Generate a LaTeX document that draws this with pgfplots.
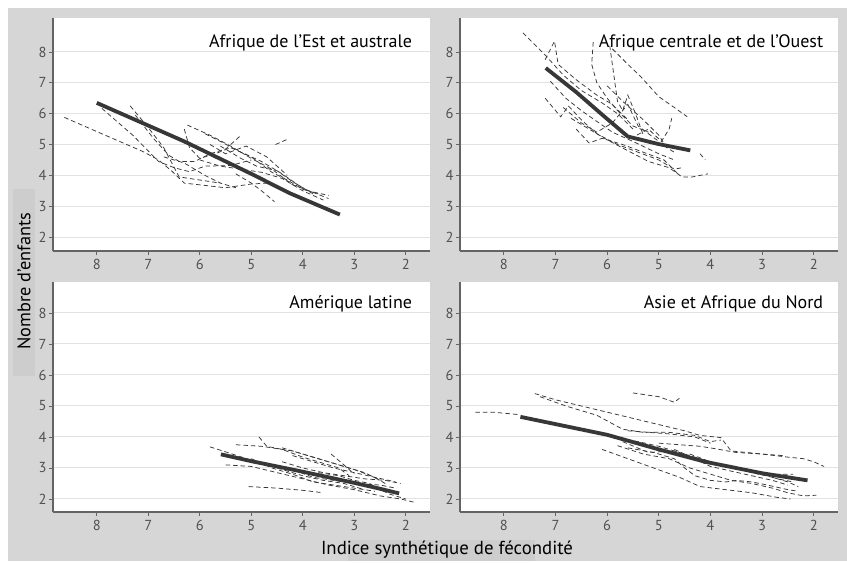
\documentclass[border=0pt]{standalone}
\usepackage{fontspec}
\setmainfont{PT Sans}
\usepackage{pgfplots}
\pgfplotsset{compat=1.18}

\definecolor{bg}{RGB}{214,214,214}
\definecolor{lblbox}{RGB}{205,205,205}
\definecolor{axisgray}{RGB}{100,100,100}
\definecolor{ticktext}{RGB}{80,80,80}
\definecolor{gridgray}{RGB}{226,226,226}
\definecolor{dashc}{RGB}{55,55,55}
\definecolor{meanc}{RGB}{55,55,55}

\tikzset{ttl/.style={anchor=base east, font=\fontsize{18}{18}\selectfont, text=black}}

\pgfplotsset{
  panel/.style={
    scale only axis, width=377pt, height=233pt, anchor=south west,
    x dir=reverse, xmin=1.53, xmax=8.85, ymin=1.55, ymax=9.1,
    axis x line*=bottom, axis y line*=left,
    axis line style={-, axisgray, line width=1.1pt},
    xtick={2,3,4,5,6,7,8}, ytick={2,3,4,5,6,7,8},
    tick style={axisgray, line width=0.8pt}, tick align=outside,
    major tick length=4pt,
    ymajorgrids, grid style={gridgray, line width=1pt},
    axis background/.style={fill=white},
    tick label style={font=\fontsize{14.5}{14.5}\selectfont, text=ticktext},
    xticklabel style={yshift=-1pt},
    yticklabel style={xshift=1pt},
    /pgf/number format/assume math mode=true,
  },
  lower/.style={height=230pt, ymin=1.58, ymax=9.0},
  cty/.style={dashc, line width=0.75pt, dash pattern=on 4.5pt off 3pt},
  avg/.style={meanc, line width=3.8pt},
}

\begin{document}
\begin{tikzpicture}
\fill[white] (0,0) rectangle (847pt,561pt);
\fill[bg] (8pt,0) rectangle (847pt,553pt);
\fill[lblbox] (13pt,185pt) rectangle (35pt,372pt);
\fill[lblbox] (348pt,0pt) rectangle (535pt,21pt);
\node[rotate=90, font=\fontsize{18.3}{18.3}\selectfont] at (24pt,280pt) {Nombre d'enfants};
\node[anchor=base, font=\fontsize{18.8}{18.8}\selectfont] at (447pt,6pt) {Indice synthétique de fécondité};

% Afrique de l'Est et australe
\begin{axis}[panel, at={(53pt,310pt)}]
\addplot[cty] coordinates {(8.63,5.88)(8.0,5.42)(7.1,4.77)(6.8,4.50)(6.55,4.15)(6.3,3.75)(5.5,3.60)(5.0,3.72)(4.7,3.75)};
\addplot[cty] coordinates {(7.9,6.17)(7.3,5.3)(6.8,4.45)(6.5,4.25)(6.2,4.12)(5.9,4.3)(5.4,4.32)(5.0,4.5)};
\addplot[cty] coordinates {(7.35,6.25)(7.0,5.55)(6.7,4.9)(6.4,3.95)(6.0,3.85)(5.6,3.75)};
\addplot[cty] coordinates {(7.25,5.95)(6.9,5.2)(6.6,4.65)(6.4,4.45)(6.1,4.45)(5.8,4.7)(5.5,4.85)(5.2,5.3)};
\addplot[cty] coordinates {(6.24,5.63)(5.8,5.3)(5.4,4.95)(5.0,4.55)(4.6,4.2)(4.2,3.7)(3.8,3.45)(3.5,3.25)};
\addplot[cty] coordinates {(6.3,5.5)(6.2,4.9)(6.0,4.55)(5.7,4.7)(5.4,4.9)(5.0,4.6)(4.6,4.1)(4.3,3.85)(4.0,3.55)(3.7,3.4)};
\addplot[cty] coordinates {(5.9,5.35)(5.6,5.1)(5.2,4.75)(4.8,4.45)(4.4,4.05)(4.1,3.7)(3.8,3.4)};
\addplot[cty] coordinates {(4.53,5.0)(4.3,5.17)};
\addplot[cty] coordinates {(6.0,4.5)(5.6,4.3)(5.2,4.2)(4.8,4.1)(4.4,3.9)(4.0,3.5)(3.6,3.2)};
\addplot[cty] coordinates {(5.3,4.05)(5.0,3.75)(4.8,3.5)(4.55,3.15)};
\addplot[cty] coordinates {(6.7,4.6)(6.3,4.4)(5.9,4.0)(5.6,3.75)(5.3,3.6)};
\addplot[cty] coordinates {(5.6,4.95)(5.2,4.55)(4.9,4.3)(4.5,4.15)(4.2,3.8)(3.9,3.5)(3.5,3.35)};
\addplot[cty] coordinates {(5.8,5.0)(5.5,4.7)(5.1,4.95)(4.7,4.6)(4.3,4.0)};
\addplot[avg] coordinates {(8.0,6.35)(6.3,5.1)(5.0,4.05)(4.25,3.42)(3.28,2.73)};
\node[ttl] at (axis cs:1.81,8.13) {Afrique de l'Est et australe};
\end{axis}

% Afrique centrale et de l'Ouest
\begin{axis}[panel, width=378pt, at={(460pt,310pt)}]
\addplot[cty] coordinates {(7.63,8.62)(7.2,7.9)(6.85,7.25)(6.5,6.75)(6.1,6.35)(5.8,6.0)(5.5,5.5)};
\addplot[cty] coordinates {(7.2,7.75)(7.02,8.35)(6.95,7.6)(6.6,7.1)(6.2,6.6)(5.9,6.3)(5.6,5.8)};
\addplot[cty] coordinates {(6.27,8.32)(6.3,7.6)(6.2,7.0)(6.0,6.5)(5.8,6.1)(5.5,5.6)(5.2,5.4)};
\addplot[cty] coordinates {(5.95,8.2)(5.9,7.6)(5.85,7.0)(5.8,6.4)(5.7,6.1)(5.6,6.6)(5.45,6.0)(5.3,5.3)};
\addplot[cty] coordinates {(5.9,8.1)(5.6,7.6)(5.35,7.2)(5.0,6.55)(4.7,6.2)(4.45,5.9)};
\addplot[cty] coordinates {(7.1,7.05)(6.8,6.5)(6.5,6.1)(6.2,5.75)(5.9,5.4)(5.5,5.1)(5.0,4.7)(4.7,4.5)};
\addplot[cty] coordinates {(7.2,6.5)(6.9,5.9)(6.75,6.25)(6.5,5.8)(6.2,5.35)(5.8,5.0)(5.4,4.75)(5.0,4.5)(4.7,4.2)(4.55,4.25)};
\addplot[cty] coordinates {(6.7,5.85)(6.35,5.5)(6.0,5.15)(5.6,4.8)(5.2,4.45)(4.8,4.25)(4.55,3.95)(4.35,3.95)(4.05,4.05)};
\addplot[cty] coordinates {(6.6,5.5)(6.35,5.05)(6.1,5.2)(5.7,5.0)(5.3,4.75)(4.9,4.5)(4.6,4.0)};
\addplot[cty] coordinates {(6.85,6.2)(6.5,5.7)(6.2,5.4)(5.9,5.7)(5.6,6.3)(5.4,5.6)(5.0,5.1)};
\addplot[cty] coordinates {(5.55,5.2)(5.2,5.5)(4.95,5.1)(4.8,5.5)(4.75,5.85)};
\addplot[cty] coordinates {(4.2,4.7)(4.1,4.5)};
\addplot[cty] coordinates {(6.0,6.9)(5.7,6.4)(5.3,5.8)(5.0,5.3)(4.85,4.9)(4.7,4.75)};
\addplot[avg] coordinates {(7.19,7.48)(6.6,6.7)(6.05,5.9)(5.6,5.26)(5.02,5.02)(4.39,4.81)};
\node[ttl] at (axis cs:1.75,8.16) {Afrique centrale et de l'Ouest};
\end{axis}

% Amerique latine
\begin{axis}[panel, lower, at={(53pt,49pt)}]
\addplot[cty] coordinates {(5.8,3.68)(5.5,3.52)(5.0,3.25)(4.5,3.05)(4.0,2.9)};
\addplot[cty] coordinates {(4.85,4.0)(4.7,3.7)(4.4,3.6)(4.0,3.35)(3.6,3.15)(3.3,3.0)(3.1,2.75)};
\addplot[cty] coordinates {(5.3,3.75)(4.8,3.7)(4.2,3.55)(3.7,3.3)(3.2,3.05)(2.8,2.85)(2.5,2.6)};
\addplot[cty] coordinates {(4.4,3.65)(4.0,3.45)(3.5,3.2)(3.0,2.95)(2.6,2.7)(2.4,2.5)};
\addplot[cty] coordinates {(3.45,3.45)(3.2,3.1)(3.0,2.8)};
\addplot[cty] coordinates {(5.05,2.4)(4.5,2.35)(4.0,2.28)(3.6,2.2)};
\addplot[cty] coordinates {(5.5,3.1)(5.0,3.05)(4.5,2.85)(4.0,2.65)(3.5,2.45)(3.0,2.3)(2.5,2.1)(2.1,2.0)(1.8,1.88)};
\addplot[cty] coordinates {(5.0,3.3)(4.6,3.0)(4.2,2.8)(3.8,2.55)(3.4,2.45)(3.0,2.35)(2.6,2.25)};
\addplot[cty] coordinates {(4.6,3.1)(4.2,2.95)(3.8,2.7)(3.4,2.6)(3.0,2.5)(2.5,2.45)(2.2,2.35)};
\addplot[cty] coordinates {(4.4,3.2)(4.0,3.0)(3.6,2.85)(3.2,2.75)(2.8,2.65)(2.4,2.6)(2.1,2.5)};
\addplot[cty] coordinates {(5.2,3.3)(4.8,3.15)(4.4,2.95)(4.0,2.75)(3.6,2.6)(3.2,2.5)(2.8,2.3)};
\addplot[cty] coordinates {(3.7,2.85)(3.3,2.75)(3.0,2.6)(2.7,2.5)(2.5,2.3)(2.3,2.15)(2.0,2.0)};
\addplot[cty] coordinates {(4.2,3.4)(3.8,3.2)(3.4,3.0)(3.0,2.85)(2.6,2.7)(2.2,2.55)};
\addplot[avg] coordinates {(5.59,3.44)(5.0,3.22)(4.5,3.05)(4.0,2.88)(3.5,2.7)(3.0,2.52)(2.5,2.33)(2.13,2.18)};
\node[ttl] at (axis cs:1.81,8.16) {Amérique latine};
\end{axis}

% Asie et Afrique du Nord
\begin{axis}[panel, lower, width=378pt, at={(460pt,49pt)}]
\addplot[cty] coordinates {(8.55,4.8)(8.2,4.8)(7.7,4.72)};
\addplot[cty] coordinates {(7.4,5.4)(7.0,5.2)(6.5,5.0)(6.0,4.8)(5.5,4.6)(5.0,4.4)(4.5,4.2)(4.2,4.05)(3.8,3.98)(3.6,3.55)(3.0,3.45)(2.5,3.35)(2.2,3.3)(2.0,3.2)(1.8,3.05)};
\addplot[cty] coordinates {(7.3,5.3)(6.8,5.0)(6.2,4.7)(5.7,4.25)(5.3,4.15)(4.8,4.15)(4.3,4.05)(4.0,3.85)(3.8,3.9)};
\addplot[cty] coordinates {(5.5,5.42)(5.0,5.3)(4.7,5.12)(4.6,5.25)};
\addplot[cty] coordinates {(6.1,3.6)(5.6,3.3)(5.1,3.0)(4.6,2.7)(4.2,2.4)(3.7,2.3)(3.2,2.2)(2.7,2.05)(2.45,2.0)};
\addplot[cty] coordinates {(5.8,3.72)(5.3,3.45)(4.8,3.3)(4.4,3.0)(4.0,2.8)(3.6,2.6)(3.2,2.5)(2.8,2.35)(2.5,2.2)(2.2,2.1)(1.95,2.12)};
\addplot[cty] coordinates {(5.6,3.65)(5.1,3.5)(4.7,3.3)(4.5,3.0)(4.3,2.75)(4.0,2.6)(3.7,2.55)(3.5,2.6)(3.2,2.55)(2.9,2.45)(2.5,2.3)(2.3,2.25)};
\addplot[cty] coordinates {(5.7,3.85)(5.2,3.5)(4.7,3.55)(4.3,3.3)(4.0,3.05)(3.6,2.9)(3.2,2.75)(2.8,2.6)(2.5,2.45)};
\addplot[cty] coordinates {(5.6,4.2)(5.2,4.15)(4.8,4.1)(4.3,4.0)(4.0,3.8)};
\addplot[cty] coordinates {(5.0,3.8)(4.6,3.75)(4.2,3.7)(3.9,3.62)(3.5,3.5)(3.0,3.45)(2.6,3.4)};
\addplot[cty] coordinates {(4.7,3.6)(4.3,3.3)(4.0,3.15)(3.6,3.0)(3.2,2.9)(2.8,2.8)(2.4,2.8)};
\addplot[cty] coordinates {(4.4,3.45)(4.0,3.2)(3.6,3.05)(3.2,2.85)(2.8,2.7)(2.5,2.55)(2.3,2.4)};
\addplot[cty] coordinates {(5.9,4.0)(5.4,3.85)(5.0,3.7)(4.6,3.5)(4.2,3.3)(3.8,3.1)(3.4,2.95)(3.0,2.8)(2.7,2.65)(2.4,2.55)};
\addplot[avg] coordinates {(7.68,4.65)(6.0,4.07)(5.0,3.6)(4.1,3.2)(3.0,2.83)(2.12,2.6)};
\node[ttl] at (axis cs:1.75,8.16) {Asie et Afrique du Nord};
\end{axis}
\end{tikzpicture}
\end{document}
